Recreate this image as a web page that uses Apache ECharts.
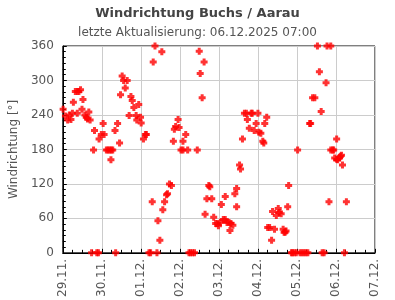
<!DOCTYPE html>
<html>
<head>
<meta charset="utf-8">
<script src="https://cdn.jsdelivr.net/npm/echarts@6/dist/echarts.min.js"></script>
<style>html,body{margin:0;padding:0;background:#fff}#c{width:395px;height:300px}</style>
</head>
<body>
<div id="c"></div>
<script>
// hours since 29.11.2025 00:00
var hours = [0.2,1.6,3.0,4.0,5.0,5.9,6.5,7.7,8.9,8.9,9.9,10.9,11.8,12.4,13.6,14.4,15.2,16.0,16.8,17.7,
18.9,19.5,20.9,21.9,22.3,23.7,24.8,25.4,26.8,27.8,28.8,29.8,30.7,29.6,32.1,32.5,33.7,34.9,35.5,36.5,
37.4,38.4,39.6,40.8,41.9,42.7,43.7,45.1,45.5,46.7,47.8,48.2,49.6,50.8,51.4,53.0,54.0,55.0,55.6,56.7,
57.9,58.5,59.7,60.9,61.5,62.6,63.8,64.4,65.6,66.8,68.0,68.6,69.4,70.9,71.5,72.7,73.9,73.9,75.6,76.8,
77.6,78.6,79.8,81.0,82.7,83.9,84.5,85.7,86.9,87.5,88.6,89.8,90.4,91.6,92.8,94.0,95.2,95.7,96.9,97.5,
98.7,99.9,99.9,101.0,102.2,102.8,103.4,104.6,105.8,106.9,106.9,108.7,109.3,110.5,111.7,112.9,113.5,114.7,115.9,116.5,
117.7,118.9,120.0,120.6,121.8,123.0,123.6,124.2,125.4,126.0,127.2,128.4,129.0,130.2,131.3,132.5,133.1,134.3,135.5,136.1,
136.7,137.3,138.3,138.9,140.6,141.2,142.4,143.6,144.4,145.9,147.1,148.3,149.5,150.7,151.8,152.4,153.6,155.0,156.6,157.8,
158.9,159.5,160.7,161.9,162.5,163.7,164.8,164.8,166.0,166.6,167.2,168.4,168.4,169.0,170.2,170.8,171.4,172.0,173.2,174.4];
var dirs = [250,238,231,240,232,243,262,281,281,243,281,284,250,267,240,236,233,245,231,0,
179,213,0,0,198,206,225,206,179,179,179,179,179,162,213,0,225,191,275,308,
300,287,300,239,272,265,253,239,231,258,236,226,198,206,206,0,0,89,332,360,
0,56,22,350,75,89,101,103,120,117,194,215,220,232,218,179,194,179,206,179,
0,0,0,0,179,351,312,270,332,67,94,117,115,94,62,51,51,47,53,84,
58,58,98,53,53,39,51,48,103,112,80,153,146,198,243,243,232,217,243,243,
213,225,243,210,208,194,191,225,236,44,44,22,72,41,65,77,70,68,41,36,
36,38,80,117,0,0,0,0,179,0,0,0,0,0,225,225,270,270,360,315,
246,0,0,296,360,89,360,179,179,179,165,198,163,162,165,168,170,153,0,89];
var dayLabels = ['29.11.','30.11.','01.12.','02.12.','03.12.','04.12.','05.12.','06.12.','07.12.'];
var titleText = 'Windrichtung Buchs / Aarau';
var subText = 'letzte Aktualisierung: 06.12.2025 07:00';

var pts = hours.map(function(h,i){return [h, dirs[i]];});
var FONT = 'DejaVu Sans';
var chart = echarts.init(document.getElementById('c'), null, {renderer:'canvas'});
chart.setOption({
  animation:false,
  title:{text:titleText, subtext:subText, left:'center', top:2, itemGap:7,
    textStyle:{fontFamily:FONT, fontSize:13, fontWeight:'bold', color:'#444'},
    subtextStyle:{fontFamily:FONT, fontSize:12, color:'#555'}},
  grid:{left:50, right:20, top:46, bottom:45, show:true, borderColor:'#000', borderWidth:1},
  xAxis:{type:'value', min:0, max:192, interval:24,
    axisLine:{lineStyle:{color:'#000'}},
    axisTick:{show:true, inside:true, length:4, lineStyle:{color:'#000'}},
    minorTick:{show:true, splitNumber:4, length:3, lineStyle:{color:'#000'}},
    splitLine:{show:true, lineStyle:{color:'#ccc'}},
    axisLabel:{rotate:90, margin:6, fontFamily:FONT, fontSize:12, color:'#555',
      formatter:function(v){return dayLabels[Math.round(v/24)];}}},
  yAxis:{type:'value', min:0, max:360, interval:60,
    name:'Windrichtung [°]', nameLocation:'middle', nameGap:39,
    nameTextStyle:{fontFamily:FONT, fontSize:12, color:'#555'},
    axisLine:{show:true, lineStyle:{color:'#000'}},
    axisTick:{show:true, inside:true, length:4, lineStyle:{color:'#000'}},
    minorTick:{show:true, splitNumber:6, length:3, lineStyle:{color:'#000'}},
    splitLine:{show:true, lineStyle:{color:'#ccc'}},
    axisLabel:{margin:9, fontFamily:FONT, fontSize:12, color:'#555'}},
  series:[{type:'scatter', data:pts, clip:false,
    symbol:'path://M2,0H5V2H7V5H5V7H2V5H0V2H2Z', symbolSize:7,
    itemStyle:{color:'#ff0000'}}]
});
</script>
</body>
</html>
